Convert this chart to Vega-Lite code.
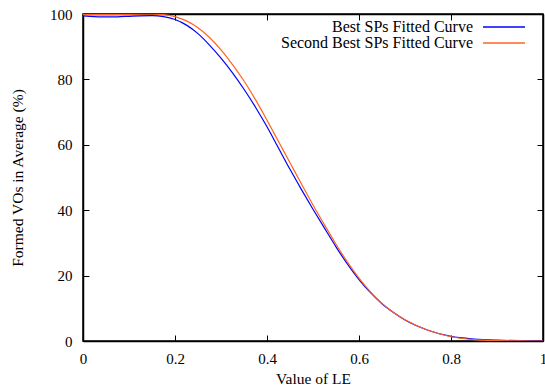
{
  "$schema": "https://vega.github.io/schema/vega-lite/v6.json",
  "width": 460,
  "height": 327,
  "autosize": "none",
  "padding": {"left": 83, "top": 14, "right": 2, "bottom": 49},
  "background": "white",
  "config": {
    "view": {"stroke": "black", "strokeWidth": 1.5},
    "axis": {"grid": false, "domainColor": "black", "domainWidth": 1.5, "tickColor": "black", "tickWidth": 1, "labelColor": "black", "titleColor": "black", "labelFont": "Liberation Serif", "titleFont": "Liberation Serif", "labelFontSize": 15, "titleFontSize": 15.5, "titleFontWeight": "normal"}
  },
  "data": {"values": [
    {"x": 0, "y": 99.4, "s": "Best SPs Fitted Curve"},
    {"x": 0.025, "y": 99.2, "s": "Best SPs Fitted Curve"},
    {"x": 0.05, "y": 99.1, "s": "Best SPs Fitted Curve"},
    {"x": 0.075, "y": 99.15, "s": "Best SPs Fitted Curve"},
    {"x": 0.1, "y": 99.3, "s": "Best SPs Fitted Curve"},
    {"x": 0.125, "y": 99.45, "s": "Best SPs Fitted Curve"},
    {"x": 0.15, "y": 99.5, "s": "Best SPs Fitted Curve"},
    {"x": 0.175, "y": 99.2, "s": "Best SPs Fitted Curve"},
    {"x": 0.2, "y": 98.3, "s": "Best SPs Fitted Curve"},
    {"x": 0.225, "y": 96.6, "s": "Best SPs Fitted Curve"},
    {"x": 0.25, "y": 94, "s": "Best SPs Fitted Curve"},
    {"x": 0.275, "y": 90.5, "s": "Best SPs Fitted Curve"},
    {"x": 0.3, "y": 86.5, "s": "Best SPs Fitted Curve"},
    {"x": 0.325, "y": 82, "s": "Best SPs Fitted Curve"},
    {"x": 0.35, "y": 77, "s": "Best SPs Fitted Curve"},
    {"x": 0.375, "y": 71.5, "s": "Best SPs Fitted Curve"},
    {"x": 0.4, "y": 65.5, "s": "Best SPs Fitted Curve"},
    {"x": 0.425, "y": 59, "s": "Best SPs Fitted Curve"},
    {"x": 0.45, "y": 52.5, "s": "Best SPs Fitted Curve"},
    {"x": 0.475, "y": 46.3, "s": "Best SPs Fitted Curve"},
    {"x": 0.5, "y": 40.3, "s": "Best SPs Fitted Curve"},
    {"x": 0.525, "y": 34.5, "s": "Best SPs Fitted Curve"},
    {"x": 0.55, "y": 28.8, "s": "Best SPs Fitted Curve"},
    {"x": 0.575, "y": 23.5, "s": "Best SPs Fitted Curve"},
    {"x": 0.6, "y": 18.8, "s": "Best SPs Fitted Curve"},
    {"x": 0.625, "y": 14.8, "s": "Best SPs Fitted Curve"},
    {"x": 0.65, "y": 11.4, "s": "Best SPs Fitted Curve"},
    {"x": 0.675, "y": 8.7, "s": "Best SPs Fitted Curve"},
    {"x": 0.7, "y": 6.4, "s": "Best SPs Fitted Curve"},
    {"x": 0.75, "y": 3.3, "s": "Best SPs Fitted Curve"},
    {"x": 0.8, "y": 1.4, "s": "Best SPs Fitted Curve"},
    {"x": 0.85, "y": 0.6, "s": "Best SPs Fitted Curve"},
    {"x": 0.9, "y": 0.25, "s": "Best SPs Fitted Curve"},
    {"x": 0.95, "y": 0.1, "s": "Best SPs Fitted Curve"},
    {"x": 1, "y": 0.05, "s": "Best SPs Fitted Curve"},
    {"x": 0, "y": 99.8, "s": "Second Best SPs Fitted Curve"},
    {"x": 0.05, "y": 99.8, "s": "Second Best SPs Fitted Curve"},
    {"x": 0.1, "y": 99.9, "s": "Second Best SPs Fitted Curve"},
    {"x": 0.15, "y": 99.95, "s": "Second Best SPs Fitted Curve"},
    {"x": 0.175, "y": 99.8, "s": "Second Best SPs Fitted Curve"},
    {"x": 0.2, "y": 99.2, "s": "Second Best SPs Fitted Curve"},
    {"x": 0.225, "y": 97.9, "s": "Second Best SPs Fitted Curve"},
    {"x": 0.25, "y": 95.8, "s": "Second Best SPs Fitted Curve"},
    {"x": 0.275, "y": 92.8, "s": "Second Best SPs Fitted Curve"},
    {"x": 0.3, "y": 89, "s": "Second Best SPs Fitted Curve"},
    {"x": 0.325, "y": 84.5, "s": "Second Best SPs Fitted Curve"},
    {"x": 0.35, "y": 79.5, "s": "Second Best SPs Fitted Curve"},
    {"x": 0.375, "y": 73.8, "s": "Second Best SPs Fitted Curve"},
    {"x": 0.4, "y": 67.5, "s": "Second Best SPs Fitted Curve"},
    {"x": 0.425, "y": 61, "s": "Second Best SPs Fitted Curve"},
    {"x": 0.45, "y": 54.5, "s": "Second Best SPs Fitted Curve"},
    {"x": 0.475, "y": 48, "s": "Second Best SPs Fitted Curve"},
    {"x": 0.5, "y": 41.6, "s": "Second Best SPs Fitted Curve"},
    {"x": 0.525, "y": 35.5, "s": "Second Best SPs Fitted Curve"},
    {"x": 0.55, "y": 29.6, "s": "Second Best SPs Fitted Curve"},
    {"x": 0.575, "y": 24.1, "s": "Second Best SPs Fitted Curve"},
    {"x": 0.6, "y": 19.2, "s": "Second Best SPs Fitted Curve"},
    {"x": 0.625, "y": 15, "s": "Second Best SPs Fitted Curve"},
    {"x": 0.65, "y": 11.5, "s": "Second Best SPs Fitted Curve"},
    {"x": 0.675, "y": 8.7, "s": "Second Best SPs Fitted Curve"},
    {"x": 0.7, "y": 6.5, "s": "Second Best SPs Fitted Curve"},
    {"x": 0.75, "y": 3.3, "s": "Second Best SPs Fitted Curve"},
    {"x": 0.8, "y": 1.3, "s": "Second Best SPs Fitted Curve"},
    {"x": 0.85, "y": 0.4, "s": "Second Best SPs Fitted Curve"},
    {"x": 0.9, "y": 0.1, "s": "Second Best SPs Fitted Curve"},
    {"x": 0.95, "y": 0.02, "s": "Second Best SPs Fitted Curve"},
    {"x": 1, "y": 0, "s": "Second Best SPs Fitted Curve"}
  ]},
  "layer": [
    {
      "mark": {"type": "line", "interpolate": "monotone", "strokeWidth": 1.2, "clip": true},
      "encoding": {
        "x": {"field": "x", "type": "quantitative", "scale": {"domain": [0, 1], "nice": false},
              "axis": {"orient": "bottom", "title": "Value of LE", "values": [0, 0.2, 0.4, 0.6, 0.8, 1], "format": "~g", "tickSize": -6, "labelPadding": 16, "titlePadding": 5, "labelFlush": false}},
        "y": {"field": "y", "type": "quantitative", "scale": {"domain": [0, 100], "nice": false},
              "axis": {"orient": "left", "title": "Formed VOs in Average (%)", "values": [0, 20, 40, 60, 80, 100], "tickSize": -6, "labelPadding": 17, "titlePadding": 24, "labelFlush": false}},
        "color": {"field": "s", "type": "nominal",
                  "scale": {"domain": ["Best SPs Fitted Curve", "Second Best SPs Fitted Curve"], "range": ["#0000ff", "#ff6422"]},
                  "legend": {"orient": "none", "legendX": 413, "legendY": 5, "title": null, "symbolType": "M-3,0H3", "symbolSize": 196, "symbolStrokeWidth": 1.5, "labelAlign": "right", "labelOffset": -39, "labelFont": "Liberation Serif", "labelFontSize": 16, "labelColor": "black", "rowPadding": -3, "labelLimit": 400}}
      }
    },
    {
      "mark": {"type": "line", "opacity": 0},
      "encoding": {
        "x": {"field": "x", "type": "quantitative", "axis": {"orient": "top", "title": null, "labels": false, "values": [0, 0.2, 0.4, 0.6, 0.8, 1], "tickSize": -6}},
        "y": {"field": "y", "type": "quantitative", "axis": {"orient": "right", "title": null, "labels": false, "values": [0, 20, 40, 60, 80, 100], "tickSize": -6}},
        "detail": {"field": "s"}
      }
    }
  ],
  "resolve": {"axis": {"x": "independent", "y": "independent"}}
}
